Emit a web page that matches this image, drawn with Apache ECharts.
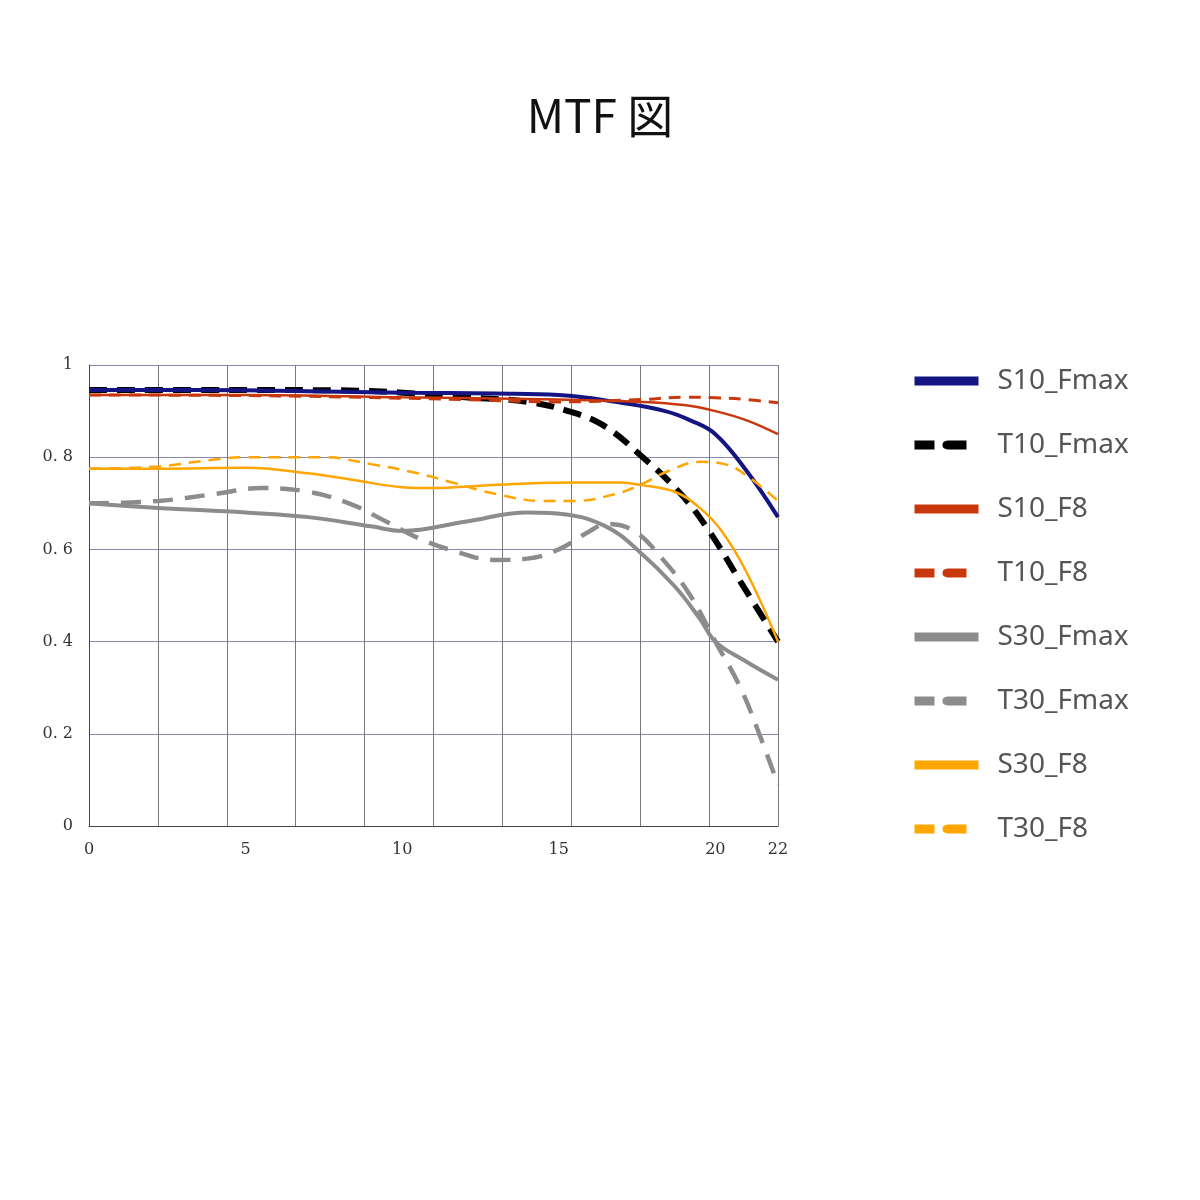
<!DOCTYPE html>
<html><head><meta charset="utf-8">
<script src="https://cdn.jsdelivr.net/npm/echarts@6/dist/echarts.min.js"></script>
<style>html,body{margin:0;padding:0;background:#fff}#c{width:1200px;height:1200px}</style>
</head><body><div id="c"></div>
<script>
const seriesNames = ['S10_Fmax','T10_Fmax','S10_F8','T10_F8','S30_Fmax','T30_Fmax','S30_F8','T30_F8'];
const S10_Fmax = [[0,0.946],[5,0.945],[10,0.94],[13,0.938],[15,0.935],[17,0.918],[18.4,0.9],[19.2,0.88],[20,0.85],[21,0.77],[22,0.67]];
const T10_Fmax = [[0,0.946],[4,0.946],[8,0.945],[10,0.94],[12,0.93],[14,0.92],[15.3,0.9],[16.4,0.87],[17.6,0.805],[18.9,0.72],[19.8,0.64],[20.8,0.53],[22,0.4]];
const S10_F8 = [[0,0.935],[5,0.935],[10,0.93],[15,0.925],[17.6,0.92],[19,0.913],[20,0.9],[21,0.88],[22,0.85]];
const T10_F8 = [[0,0.935],[6,0.933],[12,0.925],[15,0.92],[17.6,0.925],[19,0.93],[20,0.929],[21,0.925],[22,0.918]];
const S30_Fmax = [[0,0.70],[2.2,0.69],[5,0.68],[7,0.67],[9,0.65],[10,0.64],[12,0.66],[14,0.68],[15.3,0.675],[16.5,0.65],[17.5,0.60],[18.7,0.52],[19.5,0.45],[20,0.40],[20.9,0.36],[22,0.317]];
const T30_Fmax = [[0,0.70],[2.2,0.705],[4,0.72],[5.5,0.733],[7,0.725],[8.3,0.70],[9.5,0.66],[10.5,0.625],[11.5,0.60],[13,0.577],[14,0.58],[15,0.60],[16,0.64],[16.5,0.655],[17.4,0.64],[18.3,0.58],[19.2,0.50],[20,0.40],[20.8,0.30],[21.4,0.20],[22,0.089]];
const S30_F8 = [[0,0.775],[2.2,0.775],[5,0.777],[7,0.765],[8.5,0.75],[10,0.735],[11,0.733],[12.5,0.738],[14,0.743],[15.5,0.745],[17,0.745],[17.6,0.74],[18.7,0.725],[19.5,0.69],[20.2,0.64],[21,0.55],[22,0.40]];
const T30_F8 = [[0,0.775],[2.2,0.78],[4,0.795],[5,0.80],[7.5,0.80],[9,0.785],[10.5,0.765],[11.6,0.745],[13,0.72],[14.5,0.705],[15.5,0.705],[16.8,0.72],[17.6,0.74],[18.5,0.77],[19.5,0.79],[20.3,0.785],[21,0.76],[22,0.705]];
const yTickLabels = {0:'0',0.2:'0. 2',0.4:'0. 4',0.6:'0. 6',0.8:'0. 8',1:'1'};

const datas = [S10_Fmax,T10_Fmax,S10_F8,T10_F8,S30_Fmax,T30_Fmax,S30_F8,T30_F8];
const colors = ['#141482','#000000','#c8380c','#c8380c','#8c8c8c','#8c8c8c','#ffa500','#ffa500'];
const widths = [4,6,2.5,3,4,4.5,2.5,2.5];
const types = ['solid',[18,10],'solid',[12,8],'solid',[20,12],'solid',[12,8]];
const order = [4,5,6,7,2,3,0,1];

const chart = echarts.init(document.getElementById('c'));
chart.setOption({
  animation:false,
  title:{text:'MTF 図',left:'center',top:88,textStyle:{fontSize:46,fontWeight:'normal',color:'#111',fontFamily:'Noto Sans CJK JP'}},
  legend:{orient:'vertical',left:905,top:362,itemWidth:64,itemHeight:10,itemGap:36,
    textStyle:{fontSize:28,color:'#555',fontFamily:'Noto Sans',padding:[0,0,0,14]},
    data:seriesNames.map((n,i)=>({name:n,lineStyle:{width:9,type:Array.isArray(types[i])?[20,12]:'solid'}}))},
  grid:{left:89,right:422,top:365,bottom:374},
  xAxis:[
    {type:'value',min:0,max:22,interval:2.2,axisLabel:{show:false},axisTick:{show:false},
     axisLine:{lineStyle:{color:'#444'}},splitLine:{lineStyle:{color:'#777',width:1}}},
    {type:'value',min:0,max:22,interval:5,position:'bottom',axisLine:{show:false},axisTick:{show:false},splitLine:{show:false},
     axisLabel:{margin:16,fontSize:16,color:'#333',fontFamily:'DejaVu Serif',formatter:v=>String(v)}}
  ],
  yAxis:{type:'value',min:0,max:1,interval:0.2,axisTick:{show:false},
    axisLine:{show:true,lineStyle:{color:'#444'}},splitLine:{lineStyle:{color:'#8888aa',width:1}},
    axisLabel:{margin:16,fontSize:16,color:'#333',fontFamily:'DejaVu Serif',formatter:v=>yTickLabels[Math.round(v*10)/10]}},
  series:order.map(i=>({name:seriesNames[i],type:'line',data:datas[i],smooth:0.4,showSymbol:false,symbol:'none',
    z:10-order.indexOf(i)+2,color:colors[i],lineStyle:{color:colors[i],width:widths[i],type:types[i]}}))
});
</script></body></html>
